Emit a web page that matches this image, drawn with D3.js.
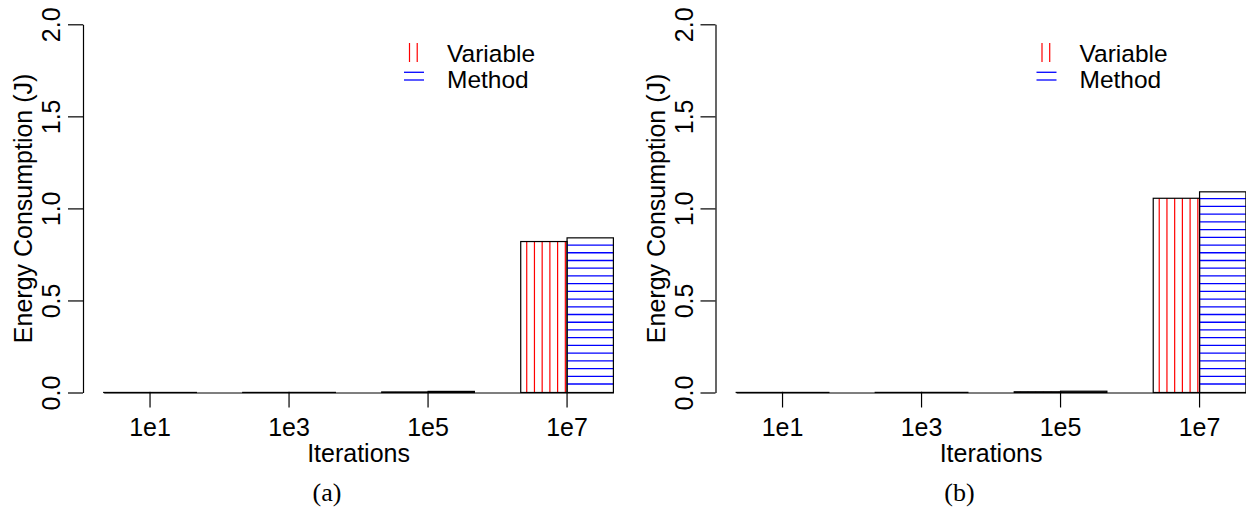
<!DOCTYPE html>
<html>
<head>
<meta charset="utf-8">
<script src="https://cdn.jsdelivr.net/npm/d3@7"></script>
<style>
  body { margin: 0; background: #fff; }
  svg { display: block; }
  text { font-family: "Liberation Sans", Arial, Helvetica, sans-serif; }
</style>
</head>
<body>
<div id="chart"></div>
<script>
// ---- data ----
const iterations = ["1e1", "1e3", "1e5", "1e7"];
const seriesNames = ["Variable", "Method"];
const seriesColors = ["#ff0000", "#0000ff"];
const panelA_variable = [0.0003, 0.0005, 0.003, 0.82];
const panelA_method   = [0.0003, 0.0006, 0.006, 0.84];
const panelB_variable = [0.0004, 0.0006, 0.004, 1.055];
const panelB_method   = [0.0004, 0.0007, 0.007, 1.09];
const yTicks = [0, 0.5, 1.0, 1.5, 2.0];
const panelLabels = ["(a)", "(b)"];
const yTitle = "Energy Consumption (J)";
const xTitle = "Iterations";

const panels = [
  { label: panelLabels[0], values: [panelA_variable, panelA_method], dx: 0 },
  { label: panelLabels[1], values: [panelB_variable, panelB_method], dx: 632.5 }
];

// ---- layout ----
let width = 1246, height = 510;
let axisX = 83, plotLeft = 103.7, plotRight = 613.4;
let yBottom = 392.5, yTop = 24.3;
let hatchGap = 7.72;
let fontSize = 25;

let svg = d3.select("#chart").append("svg")
  .attr("width", width)
  .attr("height", height);

// hatching like R's density= lines: vertical (angle 90) or horizontal (angle 0)
function hatch(g, x0, y0, w, h, vertical, color, phase) {
  if (vertical) {
    let xs = d3.range(x0 + phase, x0 + w - 0.8, hatchGap);
    g.selectAll(null).data(xs).enter().append("line")
      .attr("x1", d => d).attr("x2", d => d)
      .attr("y1", y0).attr("y2", y0 + h)
      .style("stroke", color).style("stroke-width", 1.2);
  } else {
    let ys = d3.range(y0 + h - phase, y0 + 0.8, -hatchGap);
    g.selectAll(null).data(ys).enter().append("line")
      .attr("x1", x0).attr("x2", x0 + w)
      .attr("y1", d => d).attr("y2", d => d)
      .style("stroke", color).style("stroke-width", 1.3);
  }
}

panels.forEach(function(p) {
  let g = svg.append("g").attr("transform", `translate(${p.dx},0)`);

  let x = d3.scaleBand().domain(iterations)
    .range([plotLeft, plotRight]).paddingInner(1 / 3).paddingOuter(0);
  let xs = d3.scaleBand().domain(seriesNames).range([0, x.bandwidth()]);
  let y = d3.scaleLinear().domain([0, 2]).range([yBottom, yTop]);

  // bars
  seriesNames.forEach(function(s, si) {
    let bars = g.append("g");
    iterations.forEach(function(it, i) {
      let v = p.values[si][i];
      let bx = x(it) + xs(s), bw = xs.bandwidth();
      let by = y(v), bh = y(0) - y(v);
      let bg = bars.append("g");
      hatch(bg, bx, by, bw, bh, si === 0, seriesColors[si], si === 0 ? 6 : 8.5);
      bg.append("rect")
        .attr("x", bx).attr("y", by)
        .attr("width", bw).attr("height", bh)
        .style("fill", "none").style("stroke", "black").style("stroke-width", 1.2);
    });
  });

  // x axis
  let xAxis = g.append("g")
    .attr("transform", `translate(0,${yBottom})`)
    .call(d3.axisBottom(x).tickSize(15).tickSizeOuter(0));
  xAxis.select(".domain").style("stroke-width", 1.2);
  xAxis.selectAll(".tick line").style("stroke-width", 1.2);
  xAxis.selectAll("text")
    .attr("y", 43.5).attr("dy", 0)
    .style("font-size", fontSize + "px")
    .style("font-family", '"Liberation Sans", Arial, sans-serif');

  // y axis
  let yAxis = g.append("g")
    .attr("transform", `translate(${axisX},0)`)
    .call(d3.axisLeft(y).tickValues(yTicks).tickFormat(d3.format(".1f"))
      .tickSize(15).tickSizeOuter(0));
  yAxis.select(".domain").style("stroke-width", 1.2);
  yAxis.selectAll(".tick line").style("stroke-width", 1.2);
  yAxis.selectAll("text")
    .attr("x", 0).attr("dy", 0)
    .attr("transform", "translate(-23,0) rotate(-90)")
    .attr("text-anchor", "middle")
    .style("font-size", fontSize + "px")
    .style("font-family", '"Liberation Sans", Arial, sans-serif');

  // axis titles
  g.append("text")
    .attr("transform", `translate(${axisX - 51},${(yBottom + yTop) / 2}) rotate(-90)`)
    .attr("text-anchor", "middle")
    .style("font-size", fontSize + "px")
    .text(yTitle);

  g.append("text")
    .attr("x", (plotLeft + plotRight) / 2).attr("y", 462)
    .attr("text-anchor", "middle")
    .style("font-size", fontSize + "px")
    .text(xTitle);

  g.append("text")
    .attr("x", 327).attr("y", 501)
    .attr("text-anchor", "middle")
    .style("font-family", '"Liberation Serif", "Times New Roman", serif')
    .style("font-size", "26px")
    .text(p.label);

  // legend
  let legend = g.append("g");
  seriesNames.forEach(function(s, si) {
    let ly = 43 + si * 25;
    hatch(legend, axisX + 321, ly, 20, 19, si === 0, seriesColors[si], si === 0 ? 5.5 : 7);
    legend.append("text")
      .attr("x", axisX + 364).attr("y", ly + 18.5 + si)
      .style("font-size", "24.5px")
      .text(s);
  });
});
</script>
</body>
</html>
